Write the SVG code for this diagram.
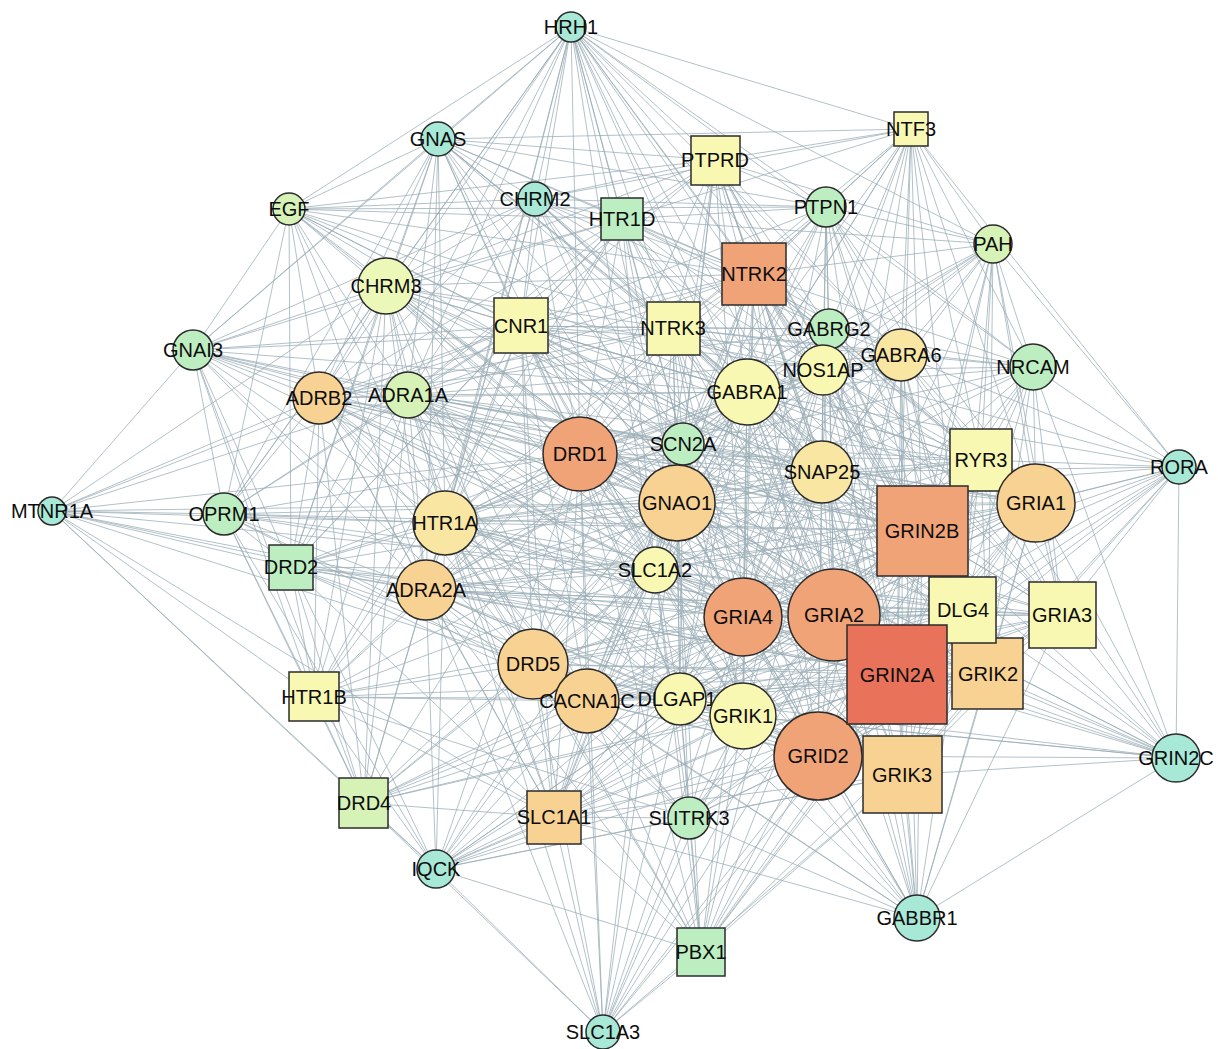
<svg xmlns="http://www.w3.org/2000/svg" width="1218" height="1049" viewBox="0 0 1218 1049">
<style>
.e path{stroke:#9aacb5;stroke-width:1;stroke-opacity:.75;fill:none}
.n circle,.n rect{stroke:#2b2b2b;stroke-width:1.5}
.n text{font-family:"Liberation Sans",Arial,sans-serif;font-size:20px;text-anchor:middle;fill:#0d0d0d}
.aq{fill:#a8e8d6}.gr{fill:#bdeec2}.yg{fill:#d6f2b6}.ly{fill:#ecf8b8}.ye{fill:#f8f8b2}.lp{fill:#f8e6a2}.pe{fill:#f8d292}.or{fill:#f1a378}.rd{fill:#e8725a}
</style>
<rect width="1218" height="1049" fill="#fff"/>
<g id="connectors" class="e">
<path d="M571 27L438 139"/><path d="M571 27L193 350"/><path d="M571 27L289 209"/><path d="M571 27L386 286"/><path d="M571 27L319 398"/><path d="M571 27L408 395"/><path d="M571 27L445 523"/><path d="M571 27L521 326"/><path d="M571 27L535 199"/><path d="M571 27L622 219"/><path d="M571 27L580 454"/><path d="M571 27L677 503"/><path d="M571 27L683 444"/><path d="M571 27L673 328"/><path d="M571 27L715 160"/><path d="M571 27L754 274"/><path d="M571 27L747 392"/><path d="M571 27L822 472"/><path d="M571 27L826 207"/><path d="M571 27L829 329"/><path d="M571 27L823 370"/><path d="M571 27L901 355"/><path d="M571 27L922 531"/><path d="M571 27L426 590"/><path d="M571 27L291 567"/><path d="M571 27L655 570"/><path d="M571 27L834 615"/><path d="M571 27L224 514"/><path d="M571 27L911 129"/><path d="M571 27L993 244"/><path d="M571 27L1033 367"/>
<path d="M438 139L911 129"/><path d="M438 139L289 209"/><path d="M438 139L193 350"/><path d="M438 139L386 286"/><path d="M438 139L319 398"/><path d="M438 139L408 395"/><path d="M438 139L521 326"/><path d="M438 139L535 199"/><path d="M438 139L622 219"/><path d="M438 139L715 160"/><path d="M438 139L580 454"/><path d="M438 139L445 523"/><path d="M438 139L677 503"/><path d="M438 139L673 328"/><path d="M438 139L747 392"/><path d="M438 139L683 444"/><path d="M438 139L224 514"/><path d="M438 139L426 590"/><path d="M438 139L822 472"/><path d="M438 139L754 274"/><path d="M438 139L826 207"/><path d="M438 139L922 531"/><path d="M438 139L291 567"/><path d="M438 139L655 570"/>
<path d="M289 209L535 199"/><path d="M289 209L622 219"/><path d="M289 209L826 207"/><path d="M289 209L386 286"/><path d="M289 209L521 326"/><path d="M289 209L408 395"/><path d="M289 209L319 398"/><path d="M289 209L193 350"/><path d="M289 209L580 454"/><path d="M289 209L445 523"/><path d="M289 209L677 503"/><path d="M289 209L673 328"/><path d="M289 209L754 274"/><path d="M289 209L922 531"/><path d="M289 209L224 514"/><path d="M289 209L291 567"/><path d="M289 209L426 590"/><path d="M289 209L715 160"/><path d="M289 209L747 392"/><path d="M289 209L683 444"/>
<path d="M193 350L52 511"/><path d="M193 350L224 514"/><path d="M193 350L291 567"/><path d="M193 350L314 697"/><path d="M193 350L386 286"/><path d="M193 350L319 398"/><path d="M193 350L408 395"/><path d="M193 350L521 326"/><path d="M193 350L535 199"/><path d="M193 350L622 219"/><path d="M193 350L580 454"/><path d="M193 350L445 523"/><path d="M193 350L677 503"/><path d="M193 350L426 590"/><path d="M193 350L533 664"/><path d="M193 350L655 570"/><path d="M193 350L673 328"/><path d="M193 350L683 444"/><path d="M193 350L747 392"/><path d="M193 350L922 531"/><path d="M193 350L364 803"/>
<path d="M52 511L224 514"/><path d="M52 511L291 567"/><path d="M52 511L314 697"/><path d="M52 511L364 803"/><path d="M52 511L445 523"/><path d="M52 511L426 590"/><path d="M52 511L319 398"/><path d="M52 511L408 395"/><path d="M52 511L386 286"/><path d="M52 511L677 503"/><path d="M52 511L580 454"/><path d="M52 511L521 326"/><path d="M52 511L554 817"/><path d="M52 511L533 664"/><path d="M52 511L436 869"/><path d="M52 511L897 675"/><path d="M52 511L655 570"/>
<path d="M224 514L291 567"/><path d="M224 514L314 697"/><path d="M224 514L364 803"/><path d="M224 514L319 398"/><path d="M224 514L408 395"/><path d="M224 514L445 523"/><path d="M224 514L426 590"/><path d="M224 514L580 454"/><path d="M224 514L677 503"/><path d="M224 514L521 326"/><path d="M224 514L386 286"/><path d="M224 514L533 664"/><path d="M224 514L655 570"/><path d="M224 514L834 615"/><path d="M224 514L922 531"/><path d="M224 514L587 701"/><path d="M224 514L436 869"/>
<path d="M291 567L314 697"/><path d="M291 567L364 803"/><path d="M291 567L436 869"/><path d="M291 567L319 398"/><path d="M291 567L445 523"/><path d="M291 567L426 590"/><path d="M291 567L580 454"/><path d="M291 567L533 664"/><path d="M291 567L677 503"/><path d="M291 567L587 701"/><path d="M291 567L655 570"/><path d="M291 567L521 326"/><path d="M291 567L386 286"/><path d="M291 567L897 675"/><path d="M291 567L834 615"/><path d="M291 567L680 699"/><path d="M291 567L554 817"/><path d="M291 567L408 395"/><path d="M291 567L683 444"/><path d="M291 567L743 617"/>
<path d="M314 697L364 803"/><path d="M314 697L436 869"/><path d="M314 697L445 523"/><path d="M314 697L426 590"/><path d="M314 697L319 398"/><path d="M314 697L408 395"/><path d="M314 697L580 454"/><path d="M314 697L533 664"/><path d="M314 697L587 701"/><path d="M314 697L677 503"/><path d="M314 697L554 817"/><path d="M314 697L386 286"/><path d="M314 697L622 219"/><path d="M314 697L897 675"/><path d="M314 697L655 570"/><path d="M314 697L680 699"/><path d="M314 697L521 326"/><path d="M314 697L743 617"/>
<path d="M364 803L436 869"/><path d="M364 803L426 590"/><path d="M364 803L445 523"/><path d="M364 803L580 454"/><path d="M364 803L533 664"/><path d="M364 803L587 701"/><path d="M364 803L554 817"/><path d="M364 803L677 503"/><path d="M364 803L319 398"/><path d="M364 803L680 699"/><path d="M364 803L834 615"/><path d="M364 803L897 675"/><path d="M364 803L603 1032"/><path d="M364 803L655 570"/><path d="M364 803L743 617"/><path d="M364 803L408 395"/><path d="M364 803L386 286"/><path d="M364 803L743 716"/>
<path d="M436 869L426 590"/><path d="M436 869L445 523"/><path d="M436 869L533 664"/><path d="M436 869L587 701"/><path d="M436 869L554 817"/><path d="M436 869L603 1032"/><path d="M436 869L701 952"/><path d="M436 869L689 818"/><path d="M436 869L680 699"/><path d="M436 869L743 716"/><path d="M436 869L834 615"/><path d="M436 869L897 675"/><path d="M436 869L818 756"/><path d="M436 869L743 617"/><path d="M436 869L677 503"/><path d="M436 869L655 570"/><path d="M436 869L580 454"/><path d="M436 869L903 775"/><path d="M436 869L922 531"/><path d="M436 869L988 674"/>
<path d="M603 1032L701 952"/><path d="M603 1032L554 817"/><path d="M603 1032L689 818"/><path d="M603 1032L587 701"/><path d="M603 1032L533 664"/><path d="M603 1032L680 699"/><path d="M603 1032L743 716"/><path d="M603 1032L743 617"/><path d="M603 1032L834 615"/><path d="M603 1032L897 675"/><path d="M603 1032L818 756"/><path d="M603 1032L903 775"/><path d="M603 1032L677 503"/><path d="M603 1032L655 570"/><path d="M603 1032L426 590"/><path d="M603 1032L922 531"/><path d="M603 1032L445 523"/><path d="M603 1032L580 454"/>
<path d="M701 952L689 818"/><path d="M701 952L743 716"/><path d="M701 952L680 699"/><path d="M701 952L743 617"/><path d="M701 952L834 615"/><path d="M701 952L897 675"/><path d="M701 952L818 756"/><path d="M701 952L903 775"/><path d="M701 952L988 674"/><path d="M701 952L963 610"/><path d="M701 952L922 531"/><path d="M701 952L677 503"/><path d="M701 952L655 570"/><path d="M701 952L587 701"/><path d="M701 952L533 664"/><path d="M701 952L554 817"/><path d="M701 952L445 523"/><path d="M701 952L426 590"/><path d="M701 952L580 454"/><path d="M701 952L1036 503"/><path d="M701 952L822 472"/>
<path d="M689 818L680 699"/><path d="M689 818L743 716"/><path d="M689 818L743 617"/><path d="M689 818L818 756"/><path d="M689 818L897 675"/><path d="M689 818L834 615"/><path d="M689 818L677 503"/><path d="M689 818L655 570"/><path d="M689 818L587 701"/><path d="M689 818L533 664"/><path d="M689 818L554 817"/><path d="M689 818L903 775"/><path d="M689 818L314 697"/><path d="M689 818L988 674"/><path d="M689 818L963 610"/><path d="M689 818L922 531"/><path d="M689 818L445 523"/><path d="M689 818L426 590"/>
<path d="M917 918L903 775"/><path d="M917 918L818 756"/><path d="M917 918L897 675"/><path d="M917 918L988 674"/><path d="M917 918L963 610"/><path d="M917 918L834 615"/><path d="M917 918L743 617"/><path d="M917 918L743 716"/><path d="M917 918L680 699"/><path d="M917 918L922 531"/><path d="M917 918L1062 615"/><path d="M917 918L1176 758"/><path d="M917 918L1036 503"/><path d="M917 918L689 818"/><path d="M917 918L587 701"/><path d="M917 918L533 664"/><path d="M917 918L655 570"/><path d="M917 918L677 503"/><path d="M917 918L822 472"/><path d="M917 918L747 392"/><path d="M917 918L901 355"/><path d="M917 918L829 329"/><path d="M917 918L554 817"/>
<path d="M1176 758L897 675"/><path d="M1176 758L922 531"/><path d="M1176 758L1036 503"/><path d="M1176 758L1062 615"/><path d="M1176 758L988 674"/><path d="M1176 758L963 610"/><path d="M1176 758L834 615"/><path d="M1176 758L903 775"/><path d="M1176 758L818 756"/><path d="M1176 758L743 617"/><path d="M1176 758L743 716"/><path d="M1176 758L822 472"/><path d="M1176 758L1033 367"/><path d="M1176 758L1179 467"/><path d="M1176 758L680 699"/><path d="M1176 758L677 503"/><path d="M1176 758L655 570"/><path d="M1176 758L981 460"/><path d="M1176 758L587 701"/><path d="M1176 758L580 454"/>
<path d="M1179 467L911 129"/><path d="M1179 467L993 244"/><path d="M1179 467L1033 367"/><path d="M1179 467L981 460"/><path d="M1179 467L1036 503"/><path d="M1179 467L922 531"/><path d="M1179 467L963 610"/><path d="M1179 467L1062 615"/><path d="M1179 467L897 675"/><path d="M1179 467L988 674"/><path d="M1179 467L834 615"/><path d="M1179 467L822 472"/><path d="M1179 467L901 355"/><path d="M1179 467L823 370"/><path d="M1179 467L677 503"/><path d="M1179 467L818 756"/><path d="M1179 467L903 775"/><path d="M1179 467L747 392"/><path d="M1179 467L743 617"/><path d="M1179 467L743 716"/>
<path d="M1033 367L993 244"/><path d="M1033 367L901 355"/><path d="M1033 367L829 329"/><path d="M1033 367L823 370"/><path d="M1033 367L981 460"/><path d="M1033 367L1036 503"/><path d="M1033 367L922 531"/><path d="M1033 367L963 610"/><path d="M1033 367L1062 615"/><path d="M1033 367L822 472"/><path d="M1033 367L747 392"/><path d="M1033 367L834 615"/><path d="M1033 367L897 675"/><path d="M1033 367L988 674"/><path d="M1033 367L754 274"/><path d="M1033 367L826 207"/><path d="M1033 367L911 129"/><path d="M1033 367L673 328"/><path d="M1033 367L743 617"/><path d="M1033 367L677 503"/><path d="M1033 367L683 444"/>
<path d="M993 244L911 129"/><path d="M993 244L826 207"/><path d="M993 244L901 355"/><path d="M993 244L829 329"/><path d="M993 244L823 370"/><path d="M993 244L981 460"/><path d="M993 244L922 531"/><path d="M993 244L1036 503"/><path d="M993 244L963 610"/><path d="M993 244L822 472"/><path d="M993 244L747 392"/><path d="M993 244L754 274"/><path d="M993 244L1062 615"/><path d="M993 244L897 675"/><path d="M993 244L834 615"/><path d="M993 244L622 219"/><path d="M993 244L715 160"/><path d="M993 244L988 674"/><path d="M993 244L677 503"/><path d="M993 244L683 444"/>
<path d="M911 129L715 160"/><path d="M911 129L826 207"/><path d="M911 129L754 274"/><path d="M911 129L673 328"/><path d="M911 129L829 329"/><path d="M911 129L823 370"/><path d="M911 129L901 355"/><path d="M911 129L981 460"/><path d="M911 129L922 531"/><path d="M911 129L822 472"/><path d="M911 129L747 392"/><path d="M911 129L1036 503"/><path d="M911 129L622 219"/><path d="M911 129L535 199"/><path d="M911 129L834 615"/><path d="M911 129L963 610"/><path d="M911 129L897 675"/><path d="M911 129L683 444"/><path d="M911 129L677 503"/>
<path d="M715 160L535 199"/><path d="M715 160L622 219"/><path d="M715 160L826 207"/><path d="M715 160L754 274"/><path d="M715 160L673 328"/><path d="M715 160L521 326"/><path d="M715 160L747 392"/><path d="M715 160L683 444"/><path d="M715 160L580 454"/><path d="M715 160L677 503"/><path d="M715 160L829 329"/><path d="M715 160L823 370"/><path d="M715 160L822 472"/><path d="M715 160L922 531"/><path d="M715 160L834 615"/><path d="M715 160L897 675"/><path d="M715 160L386 286"/><path d="M715 160L963 610"/><path d="M715 160L743 617"/><path d="M715 160L901 355"/><path d="M715 160L655 570"/><path d="M715 160L408 395"/>
<path d="M826 207L622 219"/><path d="M826 207L754 274"/><path d="M826 207L673 328"/><path d="M826 207L829 329"/><path d="M826 207L823 370"/><path d="M826 207L901 355"/><path d="M826 207L747 392"/><path d="M826 207L822 472"/><path d="M826 207L922 531"/><path d="M826 207L834 615"/><path d="M826 207L897 675"/><path d="M826 207L981 460"/><path d="M826 207L677 503"/><path d="M826 207L683 444"/><path d="M826 207L963 610"/><path d="M826 207L1036 503"/><path d="M826 207L535 199"/><path d="M826 207L521 326"/><path d="M826 207L743 617"/><path d="M826 207L580 454"/>
<path d="M535 199L622 219"/><path d="M535 199L386 286"/><path d="M535 199L521 326"/><path d="M535 199L673 328"/><path d="M535 199L319 398"/><path d="M535 199L408 395"/><path d="M535 199L580 454"/><path d="M535 199L683 444"/><path d="M535 199L677 503"/><path d="M535 199L445 523"/><path d="M535 199L747 392"/><path d="M535 199L754 274"/><path d="M535 199L822 472"/><path d="M535 199L922 531"/><path d="M535 199L834 615"/><path d="M535 199L823 370"/><path d="M535 199L426 590"/><path d="M535 199L829 329"/>
<path d="M622 219L754 274"/><path d="M622 219L673 328"/><path d="M622 219L521 326"/><path d="M622 219L386 286"/><path d="M622 219L580 454"/><path d="M622 219L747 392"/><path d="M622 219L683 444"/><path d="M622 219L677 503"/><path d="M622 219L445 523"/><path d="M622 219L319 398"/><path d="M622 219L408 395"/><path d="M622 219L822 472"/><path d="M622 219L922 531"/><path d="M622 219L834 615"/><path d="M622 219L291 567"/><path d="M622 219L901 355"/><path d="M622 219L823 370"/><path d="M622 219L829 329"/><path d="M622 219L655 570"/>
<path d="M386 286L521 326"/><path d="M386 286L319 398"/><path d="M386 286L408 395"/><path d="M386 286L580 454"/><path d="M386 286L445 523"/><path d="M386 286L677 503"/><path d="M386 286L426 590"/><path d="M386 286L673 328"/><path d="M386 286L683 444"/><path d="M386 286L747 392"/><path d="M386 286L655 570"/><path d="M386 286L533 664"/><path d="M386 286L922 531"/><path d="M386 286L834 615"/><path d="M386 286L754 274"/><path d="M386 286L822 472"/><path d="M386 286L897 675"/><path d="M386 286L587 701"/><path d="M386 286L743 617"/><path d="M386 286L823 370"/>
<path d="M521 326L673 328"/><path d="M521 326L319 398"/><path d="M521 326L408 395"/><path d="M521 326L580 454"/><path d="M521 326L445 523"/><path d="M521 326L677 503"/><path d="M521 326L426 590"/><path d="M521 326L683 444"/><path d="M521 326L747 392"/><path d="M521 326L655 570"/><path d="M521 326L533 664"/><path d="M521 326L922 531"/><path d="M521 326L834 615"/><path d="M521 326L754 274"/><path d="M521 326L822 472"/><path d="M521 326L897 675"/><path d="M521 326L587 701"/><path d="M521 326L743 617"/><path d="M521 326L829 329"/><path d="M521 326L823 370"/><path d="M521 326L901 355"/><path d="M521 326L1036 503"/><path d="M521 326L981 460"/><path d="M521 326L963 610"/><path d="M521 326L743 716"/><path d="M521 326L680 699"/><path d="M521 326L554 817"/>
<path d="M673 328L754 274"/><path d="M673 328L747 392"/><path d="M673 328L580 454"/><path d="M673 328L683 444"/><path d="M673 328L677 503"/><path d="M673 328L829 329"/><path d="M673 328L823 370"/><path d="M673 328L901 355"/><path d="M673 328L822 472"/><path d="M673 328L922 531"/><path d="M673 328L834 615"/><path d="M673 328L897 675"/><path d="M673 328L743 617"/><path d="M673 328L655 570"/><path d="M673 328L445 523"/><path d="M673 328L408 395"/><path d="M673 328L319 398"/><path d="M673 328L963 610"/><path d="M673 328L1036 503"/><path d="M673 328L981 460"/><path d="M673 328L743 716"/><path d="M673 328L818 756"/><path d="M673 328L680 699"/><path d="M673 328L533 664"/><path d="M673 328L426 590"/>
<path d="M754 274L829 329"/><path d="M754 274L823 370"/><path d="M754 274L901 355"/><path d="M754 274L747 392"/><path d="M754 274L683 444"/><path d="M754 274L677 503"/><path d="M754 274L580 454"/><path d="M754 274L822 472"/><path d="M754 274L922 531"/><path d="M754 274L834 615"/><path d="M754 274L897 675"/><path d="M754 274L743 617"/><path d="M754 274L963 610"/><path d="M754 274L1036 503"/><path d="M754 274L981 460"/><path d="M754 274L655 570"/><path d="M754 274L445 523"/><path d="M754 274L408 395"/><path d="M754 274L319 398"/><path d="M754 274L743 716"/><path d="M754 274L818 756"/><path d="M754 274L1062 615"/><path d="M754 274L988 674"/><path d="M754 274L587 701"/><path d="M754 274L680 699"/>
<path d="M829 329L901 355"/><path d="M829 329L823 370"/><path d="M829 329L747 392"/><path d="M829 329L822 472"/><path d="M829 329L922 531"/><path d="M829 329L834 615"/><path d="M829 329L897 675"/><path d="M829 329L677 503"/><path d="M829 329L683 444"/><path d="M829 329L580 454"/><path d="M829 329L981 460"/><path d="M829 329L1036 503"/><path d="M829 329L963 610"/><path d="M829 329L743 617"/><path d="M829 329L655 570"/><path d="M829 329L445 523"/><path d="M829 329L319 398"/><path d="M829 329L1062 615"/>
<path d="M901 355L823 370"/><path d="M901 355L747 392"/><path d="M901 355L822 472"/><path d="M901 355L922 531"/><path d="M901 355L834 615"/><path d="M901 355L897 675"/><path d="M901 355L677 503"/><path d="M901 355L683 444"/><path d="M901 355L981 460"/><path d="M901 355L1036 503"/><path d="M901 355L963 610"/><path d="M901 355L1062 615"/><path d="M901 355L743 617"/><path d="M901 355L580 454"/><path d="M901 355L655 570"/><path d="M901 355L988 674"/><path d="M901 355L903 775"/><path d="M901 355L818 756"/><path d="M901 355L408 395"/>
<path d="M823 370L747 392"/><path d="M823 370L822 472"/><path d="M823 370L922 531"/><path d="M823 370L834 615"/><path d="M823 370L897 675"/><path d="M823 370L677 503"/><path d="M823 370L580 454"/><path d="M823 370L683 444"/><path d="M823 370L981 460"/><path d="M823 370L1036 503"/><path d="M823 370L963 610"/><path d="M823 370L743 617"/><path d="M823 370L655 570"/><path d="M823 370L988 674"/><path d="M823 370L1062 615"/><path d="M823 370L818 756"/><path d="M823 370L743 716"/><path d="M823 370L680 699"/><path d="M823 370L445 523"/><path d="M823 370L426 590"/>
<path d="M319 398L408 395"/><path d="M319 398L580 454"/><path d="M319 398L445 523"/><path d="M319 398L426 590"/><path d="M319 398L677 503"/><path d="M319 398L683 444"/><path d="M319 398L747 392"/><path d="M319 398L655 570"/><path d="M319 398L533 664"/><path d="M319 398L587 701"/><path d="M319 398L922 531"/><path d="M319 398L834 615"/><path d="M319 398L897 675"/><path d="M319 398L743 617"/><path d="M319 398L822 472"/><path d="M319 398L554 817"/><path d="M319 398L680 699"/><path d="M319 398L743 716"/>
<path d="M408 395L580 454"/><path d="M408 395L445 523"/><path d="M408 395L426 590"/><path d="M408 395L677 503"/><path d="M408 395L683 444"/><path d="M408 395L747 392"/><path d="M408 395L655 570"/><path d="M408 395L533 664"/><path d="M408 395L587 701"/><path d="M408 395L922 531"/><path d="M408 395L834 615"/><path d="M408 395L897 675"/><path d="M408 395L743 617"/><path d="M408 395L822 472"/><path d="M408 395L554 817"/><path d="M408 395L680 699"/><path d="M408 395L743 716"/><path d="M408 395L1036 503"/><path d="M408 395L981 460"/><path d="M408 395L818 756"/>
<path d="M747 392L580 454"/><path d="M747 392L683 444"/><path d="M747 392L677 503"/><path d="M747 392L822 472"/><path d="M747 392L922 531"/><path d="M747 392L834 615"/><path d="M747 392L897 675"/><path d="M747 392L743 617"/><path d="M747 392L1036 503"/><path d="M747 392L981 460"/><path d="M747 392L963 610"/><path d="M747 392L655 570"/><path d="M747 392L445 523"/><path d="M747 392L426 590"/><path d="M747 392L533 664"/><path d="M747 392L587 701"/><path d="M747 392L680 699"/><path d="M747 392L743 716"/><path d="M747 392L818 756"/><path d="M747 392L903 775"/><path d="M747 392L988 674"/><path d="M747 392L1062 615"/><path d="M747 392L554 817"/>
<path d="M580 454L683 444"/><path d="M580 454L677 503"/><path d="M580 454L445 523"/><path d="M580 454L426 590"/><path d="M580 454L655 570"/><path d="M580 454L533 664"/><path d="M580 454L587 701"/><path d="M580 454L743 617"/><path d="M580 454L834 615"/><path d="M580 454L897 675"/><path d="M580 454L922 531"/><path d="M580 454L822 472"/><path d="M580 454L680 699"/><path d="M580 454L743 716"/><path d="M580 454L818 756"/><path d="M580 454L903 775"/><path d="M580 454L554 817"/><path d="M580 454L1036 503"/><path d="M580 454L981 460"/><path d="M580 454L963 610"/><path d="M580 454L988 674"/><path d="M580 454L1062 615"/>
<path d="M683 444L677 503"/><path d="M683 444L822 472"/><path d="M683 444L922 531"/><path d="M683 444L834 615"/><path d="M683 444L897 675"/><path d="M683 444L743 617"/><path d="M683 444L655 570"/><path d="M683 444L445 523"/><path d="M683 444L426 590"/><path d="M683 444L533 664"/><path d="M683 444L587 701"/><path d="M683 444L680 699"/><path d="M683 444L743 716"/><path d="M683 444L818 756"/><path d="M683 444L981 460"/><path d="M683 444L1036 503"/><path d="M683 444L963 610"/><path d="M683 444L554 817"/>
<path d="M822 472L677 503"/><path d="M822 472L922 531"/><path d="M822 472L834 615"/><path d="M822 472L897 675"/><path d="M822 472L743 617"/><path d="M822 472L655 570"/><path d="M822 472L981 460"/><path d="M822 472L1036 503"/><path d="M822 472L963 610"/><path d="M822 472L1062 615"/><path d="M822 472L988 674"/><path d="M822 472L903 775"/><path d="M822 472L818 756"/><path d="M822 472L743 716"/><path d="M822 472L680 699"/><path d="M822 472L587 701"/><path d="M822 472L533 664"/><path d="M822 472L445 523"/><path d="M822 472L426 590"/><path d="M822 472L554 817"/>
<path d="M445 523L677 503"/><path d="M445 523L426 590"/><path d="M445 523L655 570"/><path d="M445 523L533 664"/><path d="M445 523L587 701"/><path d="M445 523L743 617"/><path d="M445 523L834 615"/><path d="M445 523L897 675"/><path d="M445 523L922 531"/><path d="M445 523L680 699"/><path d="M445 523L743 716"/><path d="M445 523L818 756"/><path d="M445 523L554 817"/><path d="M445 523L1036 503"/><path d="M445 523L963 610"/><path d="M445 523L981 460"/><path d="M445 523L988 674"/>
<path d="M677 503L655 570"/><path d="M677 503L743 617"/><path d="M677 503L834 615"/><path d="M677 503L897 675"/><path d="M677 503L922 531"/><path d="M677 503L963 610"/><path d="M677 503L1036 503"/><path d="M677 503L981 460"/><path d="M677 503L1062 615"/><path d="M677 503L988 674"/><path d="M677 503L903 775"/><path d="M677 503L818 756"/><path d="M677 503L743 716"/><path d="M677 503L680 699"/><path d="M677 503L587 701"/><path d="M677 503L533 664"/><path d="M677 503L426 590"/><path d="M677 503L554 817"/>
<path d="M922 531L1036 503"/><path d="M922 531L981 460"/><path d="M922 531L963 610"/><path d="M922 531L1062 615"/><path d="M922 531L834 615"/><path d="M922 531L897 675"/><path d="M922 531L988 674"/><path d="M922 531L903 775"/><path d="M922 531L818 756"/><path d="M922 531L743 617"/><path d="M922 531L743 716"/><path d="M922 531L680 699"/><path d="M922 531L655 570"/><path d="M922 531L587 701"/><path d="M922 531L533 664"/><path d="M922 531L426 590"/><path d="M922 531L554 817"/>
<path d="M1036 503L981 460"/><path d="M1036 503L963 610"/><path d="M1036 503L1062 615"/><path d="M1036 503L834 615"/><path d="M1036 503L897 675"/><path d="M1036 503L988 674"/><path d="M1036 503L903 775"/><path d="M1036 503L818 756"/><path d="M1036 503L743 617"/><path d="M1036 503L743 716"/><path d="M1036 503L680 699"/><path d="M1036 503L655 570"/><path d="M1036 503L587 701"/><path d="M1036 503L533 664"/><path d="M1036 503L426 590"/>
<path d="M655 570L426 590"/><path d="M655 570L743 617"/><path d="M655 570L834 615"/><path d="M655 570L897 675"/><path d="M655 570L963 610"/><path d="M655 570L1062 615"/><path d="M655 570L988 674"/><path d="M655 570L903 775"/><path d="M655 570L818 756"/><path d="M655 570L743 716"/><path d="M655 570L680 699"/><path d="M655 570L587 701"/><path d="M655 570L533 664"/><path d="M655 570L554 817"/><path d="M655 570L981 460"/>
<path d="M426 590L533 664"/><path d="M426 590L587 701"/><path d="M426 590L743 617"/><path d="M426 590L834 615"/><path d="M426 590L897 675"/><path d="M426 590L680 699"/><path d="M426 590L743 716"/><path d="M426 590L554 817"/><path d="M426 590L818 756"/><path d="M426 590L963 610"/><path d="M426 590L1062 615"/><path d="M426 590L988 674"/>
<path d="M743 617L834 615"/><path d="M743 617L897 675"/><path d="M743 617L963 610"/><path d="M743 617L1062 615"/><path d="M743 617L988 674"/><path d="M743 617L903 775"/><path d="M743 617L818 756"/><path d="M743 617L743 716"/><path d="M743 617L680 699"/><path d="M743 617L587 701"/><path d="M743 617L533 664"/><path d="M743 617L554 817"/><path d="M743 617L981 460"/>
<path d="M834 615L897 675"/><path d="M834 615L963 610"/><path d="M834 615L1062 615"/><path d="M834 615L988 674"/><path d="M834 615L903 775"/><path d="M834 615L818 756"/><path d="M834 615L743 716"/><path d="M834 615L680 699"/><path d="M834 615L587 701"/><path d="M834 615L533 664"/><path d="M834 615L554 817"/><path d="M834 615L981 460"/>
<path d="M963 610L1062 615"/><path d="M963 610L897 675"/><path d="M963 610L988 674"/><path d="M963 610L903 775"/><path d="M963 610L818 756"/><path d="M963 610L743 716"/><path d="M963 610L680 699"/><path d="M963 610L587 701"/><path d="M963 610L533 664"/><path d="M963 610L981 460"/>
<path d="M1062 615L897 675"/><path d="M1062 615L988 674"/><path d="M1062 615L903 775"/><path d="M1062 615L818 756"/><path d="M1062 615L743 716"/><path d="M1062 615L680 699"/><path d="M1062 615L587 701"/><path d="M1062 615L981 460"/>
<path d="M897 675L988 674"/><path d="M897 675L903 775"/><path d="M897 675L818 756"/><path d="M897 675L743 716"/><path d="M897 675L680 699"/><path d="M897 675L587 701"/><path d="M897 675L533 664"/><path d="M897 675L554 817"/><path d="M897 675L981 460"/>
<path d="M988 674L903 775"/><path d="M988 674L818 756"/><path d="M988 674L743 716"/><path d="M988 674L680 699"/><path d="M988 674L587 701"/><path d="M988 674L533 664"/><path d="M988 674L981 460"/>
<path d="M533 664L587 701"/><path d="M533 664L680 699"/><path d="M533 664L743 716"/><path d="M533 664L818 756"/><path d="M533 664L903 775"/><path d="M533 664L554 817"/>
<path d="M587 701L680 699"/><path d="M587 701L743 716"/><path d="M587 701L818 756"/><path d="M587 701L903 775"/><path d="M587 701L554 817"/>
<path d="M680 699L743 716"/><path d="M680 699L818 756"/><path d="M680 699L903 775"/><path d="M680 699L554 817"/>
<path d="M743 716L818 756"/><path d="M743 716L903 775"/><path d="M743 716L554 817"/>
<path d="M818 756L903 775"/><path d="M818 756L554 817"/><path d="M903 775L554 817"/>
<path d="M981 460L903 775"/><path d="M981 460L818 756"/><path d="M981 460L743 716"/>
</g>
<g class="n">
<g id="HRH1"><circle class="aq" cx="571" cy="27" r="15"/><text x="571" y="34">HRH1</text></g>
<g id="GNAS"><circle class="aq" cx="438" cy="139" r="17"/><text x="438" y="146">GNAS</text></g>
<g id="NTF3"><rect class="ye" x="894" y="112" width="34" height="34"/><text x="911" y="136">NTF3</text></g>
<g id="PTPRD"><rect class="ye" x="691" y="136" width="49" height="49"/><text x="715" y="167">PTPRD</text></g>
<g id="CHRM2"><circle class="aq" cx="535" cy="199" r="17"/><text x="535" y="206">CHRM2</text></g>
<g id="HTR1D"><rect class="gr" x="601" y="198" width="42" height="42"/><text x="622" y="226">HTR1D</text></g>
<g id="PTPN1"><circle class="gr" cx="826" cy="207" r="20"/><text x="826" y="214">PTPN1</text></g>
<g id="EGF"><circle class="yg" cx="289" cy="209" r="16"/><text x="289" y="216">EGF</text></g>
<g id="PAH"><circle class="yg" cx="993" cy="244" r="19"/><text x="993" y="251">PAH</text></g>
<g id="NTRK2"><rect class="or" x="722" y="243" width="64" height="62"/><text x="754" y="281">NTRK2</text></g>
<g id="CHRM3"><circle class="ly" cx="386" cy="286" r="28"/><text x="386" y="293">CHRM3</text></g>
<g id="CNR1"><rect class="ye" x="494" y="298" width="54" height="55"/><text x="521" y="333">CNR1</text></g>
<g id="NTRK3"><rect class="ye" x="647" y="302" width="53" height="53"/><text x="673" y="335">NTRK3</text></g>
<g id="GABRG2"><circle class="gr" cx="829" cy="329" r="20"/><text x="829" y="336">GABRG2</text></g>
<g id="NOS1AP"><circle class="ye" cx="823" cy="370" r="25"/><text x="823" y="377">NOS1AP</text></g>
<g id="GABRA6"><circle class="lp" cx="901" cy="355" r="26"/><text x="901" y="362">GABRA6</text></g>
<g id="GNAI3"><circle class="gr" cx="193" cy="350" r="20"/><text x="193" y="357">GNAI3</text></g>
<g id="NRCAM"><circle class="gr" cx="1033" cy="367" r="23"/><text x="1033" y="374">NRCAM</text></g>
<g id="ADRB2"><circle class="pe" cx="319" cy="398" r="26"/><text x="319" y="405">ADRB2</text></g>
<g id="ADRA1A"><circle class="yg" cx="408" cy="395" r="23"/><text x="408" y="402">ADRA1A</text></g>
<g id="GABRA1"><circle class="ye" cx="747" cy="392" r="33"/><text x="747" y="399">GABRA1</text></g>
<g id="DRD1"><circle class="or" cx="580" cy="454" r="37"/><text x="580" y="461">DRD1</text></g>
<g id="SCN2A"><circle class="gr" cx="683" cy="444" r="21"/><text x="683" y="451">SCN2A</text></g>
<g id="GNAO1"><circle class="pe" cx="677" cy="503" r="38"/><text x="677" y="510">GNAO1</text></g>
<g id="RYR3"><rect class="ye" x="950" y="429" width="62" height="62"/><text x="981" y="467">RYR3</text></g>
<g id="GRIA1"><circle class="pe" cx="1036" cy="503" r="39"/><text x="1036" y="510">GRIA1</text></g>
<g id="GRIN2B"><rect class="or" x="877" y="486" width="91" height="90"/><text x="922" y="538">GRIN2B</text></g>
<g id="RORA"><circle class="aq" cx="1179" cy="467" r="17"/><text x="1179" y="474">RORA</text></g>
<g id="SNAP25"><circle class="lp" cx="822" cy="472" r="31"/><text x="822" y="479">SNAP25</text></g>
<g id="MTNR1A"><circle class="aq" cx="52" cy="511" r="14"/><text x="52" y="518">MTNR1A</text></g>
<g id="OPRM1"><circle class="gr" cx="224" cy="514" r="21"/><text x="224" y="521">OPRM1</text></g>
<g id="HTR1A"><circle class="lp" cx="445" cy="523" r="32"/><text x="445" y="530">HTR1A</text></g>
<g id="DRD2"><rect class="gr" x="269" y="545" width="44" height="45"/><text x="291" y="574">DRD2</text></g>
<g id="SLC1A2"><circle class="ye" cx="655" cy="570" r="23"/><text x="655" y="577">SLC1A2</text></g>
<g id="ADRA2A"><circle class="pe" cx="426" cy="590" r="30"/><text x="426" y="597">ADRA2A</text></g>
<g id="GRIA4"><circle class="or" cx="743" cy="617" r="39"/><text x="743" y="624">GRIA4</text></g>
<g id="GRIA2"><circle class="or" cx="834" cy="615" r="46"/><text x="834" y="622">GRIA2</text></g>
<g id="GRIK2"><rect class="pe" x="952" y="638" width="71" height="71"/><text x="988" y="681">GRIK2</text></g>
<g id="DLG4"><rect class="ye" x="929" y="577" width="67" height="66"/><text x="963" y="617">DLG4</text></g>
<g id="GRIA3"><rect class="ye" x="1029" y="582" width="67" height="66"/><text x="1062" y="622">GRIA3</text></g>
<g id="DRD5"><circle class="pe" cx="533" cy="664" r="35"/><text x="533" y="671">DRD5</text></g>
<g id="CACNA1C"><circle class="pe" cx="587" cy="701" r="32"/><text x="587" y="708">CACNA1C</text></g>
<g id="GRID2"><circle class="or" cx="818" cy="756" r="44"/><text x="818" y="763">GRID2</text></g>
<g id="GRIN2A"><rect class="rd" x="847" y="625" width="100" height="99"/><text x="897" y="682">GRIN2A</text></g>
<g id="HTR1B"><rect class="ye" x="289" y="672" width="50" height="49"/><text x="314" y="704">HTR1B</text></g>
<g id="DLGAP1"><circle class="ye" cx="680" cy="699" r="26"/><text x="677" y="706">DLGAP1</text></g>
<g id="GRIK1"><circle class="ye" cx="743" cy="716" r="33"/><text x="743" y="723">GRIK1</text></g>
<g id="GRIK3"><rect class="pe" x="863" y="736" width="79" height="77"/><text x="902" y="782">GRIK3</text></g>
<g id="GRIN2C"><circle class="aq" cx="1176" cy="758" r="24"/><text x="1176" y="765">GRIN2C</text></g>
<g id="DRD4"><rect class="yg" x="339" y="778" width="49" height="50"/><text x="364" y="810">DRD4</text></g>
<g id="SLC1A1"><rect class="pe" x="527" y="791" width="54" height="53"/><text x="554" y="824">SLC1A1</text></g>
<g id="SLITRK3"><circle class="gr" cx="689" cy="818" r="21"/><text x="689" y="825">SLITRK3</text></g>
<g id="IQCK"><circle class="aq" cx="436" cy="869" r="19"/><text x="436" y="876">IQCK</text></g>
<g id="GABBR1"><circle class="aq" cx="917" cy="918" r="23"/><text x="917" y="925">GABBR1</text></g>
<g id="PBX1"><rect class="gr" x="677" y="928" width="48" height="48"/><text x="701" y="959">PBX1</text></g>
<g id="SLC1A3"><circle class="aq" cx="603" cy="1032" r="17"/><text x="603" y="1039">SLC1A3</text></g>
</g>
</svg>
